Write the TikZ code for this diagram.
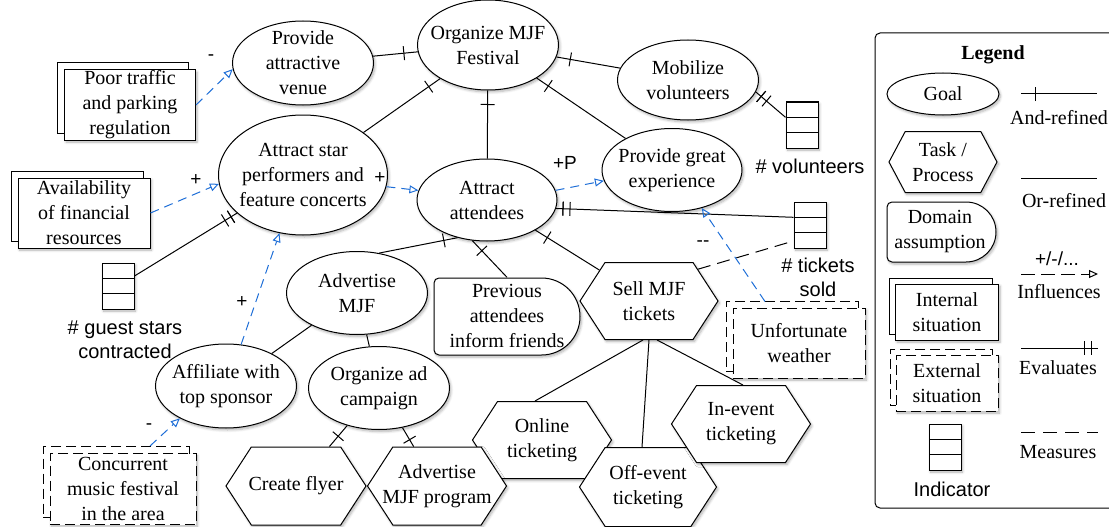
\documentclass[tikz,border=0pt]{standalone}
\usepackage{fontspec}
\setmainfont{Liberation Serif}
\setsansfont{Liberation Sans}
\usetikzlibrary{shapes.geometric,shapes.symbols,arrows.meta,decorations.markings,shadows,shadows.blur,calc}
\definecolor{inflblue}{RGB}{30,110,215}
\tikzset{
  sz/.style 2 args={minimum width=#1pt, minimum height=#2pt},
  shd/.style={blur shadow={shadow xshift=1.5pt, shadow yshift=-2pt, shadow blur radius=2.5pt, shadow blur steps=6, shadow opacity=30}},
  base/.style={draw, line width=1pt, fill=white, align=center, font=\fontsize{20}{25}\selectfont, text=black},
  goal/.style={base, shd, ellipse, inner sep=-14pt},
  task/.style={base, shd, signal, signal to=east and west, signal pointer angle=114, inner xsep=-20pt, inner ysep=0pt},
  dashape/.style={line width=1pt, fill=white, shd},
  domtext/.style={rectangle, inner sep=0pt, align=center, font=\fontsize{20}{25}\selectfont},
  sit/.style={base, shd, rectangle, inner sep=0pt,
    copy shadow={shadow xshift=-#1pt, shadow yshift=#1pt, draw, fill=white, line width=1pt}},
  sit/.default=7,
  xsit/.style={base, shd, rectangle, inner sep=0pt, dash pattern=on 10pt off 5pt,
    copy shadow={shadow xshift=-#1pt, shadow yshift=#1pt, draw, fill=white, line width=1pt, dash pattern=on 10pt off 5pt}},
  xsit/.default=7,
  ind/.style={draw, line width=1pt, fill=white, shd, minimum width=32pt, minimum height=46pt, inner sep=0pt,
    path picture={
      \draw[line width=1pt] ($(path picture bounding box.north west)!1/3!(path picture bounding box.south west)$) -- ($(path picture bounding box.north east)!1/3!(path picture bounding box.south east)$);
      \draw[line width=1pt] ($(path picture bounding box.north west)!2/3!(path picture bounding box.south west)$) -- ($(path picture bounding box.north east)!2/3!(path picture bounding box.south east)$);
    }},
  lbl/.style={font=\sffamily\fontsize{20}{24}\selectfont, align=center},
  txt/.style={font=\fontsize{20}{25}\selectfont, align=center},
  sgn/.style={font=\sffamily\fontsize{19}{20}\selectfont},
  conn/.style={line width=1pt},
  tick/.style={decoration={markings, mark=at position #1 with {\draw[line width=1pt, solid] (0,-7pt) -- (0,7pt);}}, postaction={decorate}},
  andref/.style={conn, tick=14pt},
  evalref/.style={conn, tick=7pt, postaction={decorate, decoration={markings, mark=at position 14pt with {\draw[line width=1pt] (0,-7pt) -- (0,7pt);}}}},
  measref/.style={conn, dash pattern=on 13pt off 7pt},
  infl/.style={conn, draw=inflblue, dash pattern=on 9pt off 6pt, -{Triangle[open, length=9pt, width=8pt]}},
}
\begin{document}
\begin{tikzpicture}[x=1pt, y=-1pt]
\useasboundingbox (0,0) rectangle (1109,527);

% goals
\node[goal, sz={141}{90}] (org) at (488,45) {Organize MJF\\Festival};
\node[goal, sz={141}{84}] (venue) at (303,63) {Provide\\attractive\\venue};
\node[goal, sz={141}{80}] (mob) at (688,80) {Mobilize\\volunteers};
\node[goal, sz={169}{120}] (star) at (303,175) {Attract star\\performers and\\feature concerts};
\node[goal, sz={140}{82}] (att) at (487,200) {Attract\\attendees};
\node[goal, sz={140}{83}] (exp) at (672,170) {Provide great\\experience};
\node[goal, sz={141}{83}] (adv) at (357,293) {Advertise\\MJF};
\node[goal, sz={141}{84}] (aff) at (226,386) {Affiliate with\\top sponsor};
\node[goal, sz={141}{83}] (oad) at (379,388) {Organize ad\\campaign};

% tasks
\node[task, sz={138}{77}] (sell) at (649,301) {Sell MJF\\tickets};
\node[task, sz={139}{77}] (online) at (542,440) {Online\\ticketing};
\node[task, sz={137}{79}] (off) at (648,487) {Off-event\\ticketing};
\node[task, sz={139}{77}] (inev) at (741,424) {In-event\\ticketing};
\node[task, sz={140}{78}] (flyer) at (296,486) {Create flyer};
\node[task, sz={139}{78}] (prog) at (437,486) {Advertise\\MJF program};

% domain assumption: small corners on the left, round right end
\draw[dashape] (541.5,278) -- (439,278) .. controls (436.2,278) and (434,280.2) .. (434,283)
  -- (434,350) .. controls (434,352.8) and (436.2,355) .. (439,355) -- (541.5,355)
  .. controls (562.8,355) and (580,337.8) .. (580,316.5)
  .. controls (580,295.2) and (562.8,278) .. (541.5,278) -- cycle;
\node[domtext, sz={146}{77}] (prev) at (507,316) {Previous\\attendees\\inform friends};

% situations
\node[sit, sz={131}{70}] (poor) at (130,105) {Poor traffic\\and parking\\regulation};
\node[sit, sz={132}{70}] (avail) at (84,213) {Availability\\of financial\\resources};
\node[xsit, sz={146}{71}] (conc) at (123,489) {Concurrent\\music festival\\in the area};
\node[xsit, sz={132}{70}] (unf) at (799,343) {Unfortunate\\weather};

% indicators
\node[ind] (vol) at (802,125) {};
\node[lbl] (voltxt) at (810,166) {\# volunteers};
\node[ind] (tix) at (810,225) {};
\node[lbl] (tixtxt) at (818,277) {\# tickets\\sold};
\node[ind] (gs) at (118,286) {};
\node[lbl] (gstxt) at (125,340) {\# guest stars\\contracted};

% refinements
\draw[andref] (org) -- (venue);
\draw[andref] (org) -- (mob);
\draw[andref] (org) -- (star);
\draw[andref] (org) -- (att);
\draw[andref] (org) -- (exp);
\draw[andref] (att.232) -- (adv.61);
\draw[andref] (att.250) -- (prev.north);
\draw[andref] (att) -- (sell);
\draw[conn] (adv) -- (aff);
\draw[conn] (adv) -- (oad);
\draw[andref] (oad) -- (flyer);
\draw[andref] (oad) -- (prog);
\draw[conn] ([xshift=-6pt]sell.south) -- ([xshift=-7pt]online.north);
\draw[conn] (sell.south) -- ([xshift=-6pt]off.north);
\draw[conn] ([xshift=8pt]sell.south) -- ([xshift=2pt]inev.north);

% evaluations and measures
\draw[evalref] (mob.-10) -- ([yshift=7.7pt]vol.west);
\draw[evalref] (att.-7) -- ([yshift=7.7pt]tix.west);
\draw[evalref] (star.210) -- ([yshift=10pt]gs.east);
\draw[measref] (sell.33) -- ([yshift=-16pt]tix.west);

% influences
\draw[infl] (poor.east) -- (venue.185);
\draw[infl] (avail.east) -- (star.186);
\draw[infl] (star.-8) -- (att.172);
\draw[infl] (att.8) -- (exp.189);
\draw[infl] (aff.70) -- (star.248);
\draw[infl] ([xshift=27pt,yshift=7pt]conc.north) -- (aff.215);
\draw[infl] ([xshift=-34pt,yshift=6pt]unf.north) -- (exp.-52);

\node[sgn] (s1) at (211,58) {-};
\node[sgn] (s2) at (196,180) {+};
\node[sgn] (s3) at (380,178) {+};
\node[sgn] (s4) at (565,163) {+P};
\node[sgn] (s5) at (242,302) {+};
\node[sgn] (s6) at (149,427) {-};
\node[sgn] (s7) at (703,244) {{-}{-}};

% legend
\draw[line width=1pt, rounded corners=5pt] (875,33) rectangle (1118,508);
\node[txt, font=\bfseries\fontsize{20}{25}\selectfont] (leg) at (993,55) {Legend};
\node[goal, sz={112}{42}] (lgoal) at (943,94) {Goal};
\node[task, sz={108}{61}, signal pointer angle=124] (ltask) at (943,162) {Task /\\Process};
\draw[dashape] (966,202) -- (892,202) .. controls (889.2,202) and (887,204.2) .. (887,207)
  -- (887,257) .. controls (887,259.8) and (889.2,262) .. (892,262) -- (966,262)
  .. controls (982.6,262) and (996,248.6) .. (996,232)
  .. controls (996,215.4) and (982.6,202) .. (966,202) -- cycle;
\node[domtext, sz={109}{60}] (ldom) at (940,232) {Domain\\assumption};
\node[sit=6, sz={103}{56}] (lint) at (947,312) {Internal\\situation};
\node[xsit=6, sz={102}{56}] (lext) at (947,383) {External\\situation};
\node[ind] (lind) at (945,447) {};
\node[lbl] (lindtxt) at (952,489) {Indicator};

\coordinate (a1) at (1021,94); \coordinate (a2) at (1097,94);
\draw[andref] (a1) -- (a2);
\node[txt] (latxt) at (1059,118) {And-refined};
\coordinate (o1) at (1021,178); \coordinate (o2) at (1097,178);
\draw[conn] (o1) -- (o2);
\node[txt] (lotxt) at (1064,201) {Or-refined};
\coordinate (i1) at (1021,274); \coordinate (i2) at (1098,274);
\node[sgn] (litop) at (1057,259) {+/-/...};
\draw[conn, dash pattern=on 14pt off 6pt, -{Triangle[open, length=9pt, width=8pt]}] (i1) -- (i2);
\node[txt] (litxt) at (1059,292) {Influences};
\coordinate (e1) at (1021,348); \coordinate (e2) at (1098,348);
\draw[evalref] (e2) -- (e1);
\node[txt] (letxt) at (1058,368) {Evaluates};
\coordinate (m1) at (1021,432); \coordinate (m2) at (1098,432);
\draw[measref, dash pattern=on 14pt off 8pt] (m1) -- (m2);
\node[txt] (lmtxt) at (1058,452) {Measures};
\end{tikzpicture}
\end{document}
